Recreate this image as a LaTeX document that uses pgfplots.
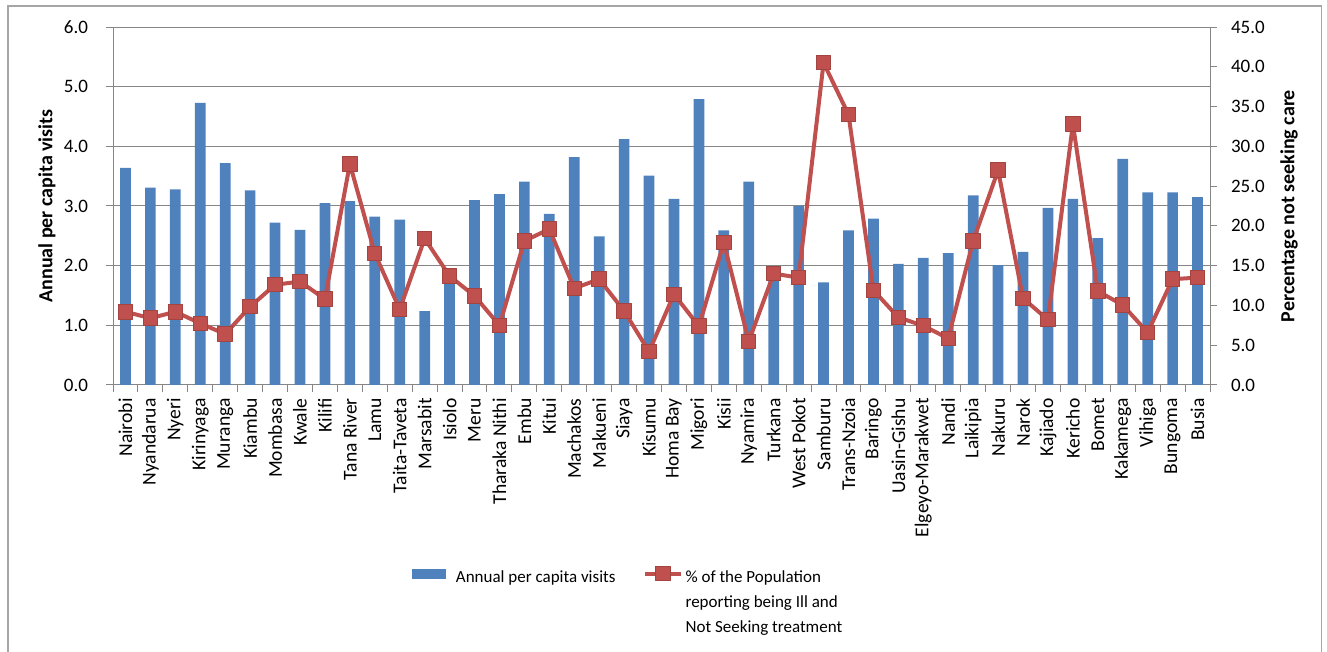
\documentclass[border=0pt]{standalone}
\usepackage{pgfplots}
\pgfplotsset{compat=1.18}
\usepackage{fontspec}
\setmainfont{Carlito}
\definecolor{barblue}{HTML}{4F81BD}
\definecolor{linered}{HTML}{C0504D}
\definecolor{gridgray}{HTML}{868686}
\definecolor{framegray}{HTML}{A6A6A6}
\pgfplotstableread{
x visits pct
0 3.64 9.2
1 3.31 8.4
2 3.28 9.2
3 4.73 7.75
4 3.72 6.4
5 3.26 9.85
6 2.72 12.6
7 2.60 13.0
8 3.05 10.8
9 3.08 27.8
10 2.82 16.55
11 2.77 9.5
12 1.24 18.4
13 1.95 13.7
14 3.10 11.2
15 3.20 7.5
16 3.41 18.1
17 2.87 19.6
18 3.82 12.15
19 2.49 13.3
20 4.12 9.3
21 3.51 4.2
22 3.12 11.4
23 4.79 7.4
24 2.59 17.9
25 3.41 5.5
26 1.90 14.0
27 3.00 13.5
28 1.72 40.5
29 2.59 34.0
30 2.79 11.9
31 2.03 8.5
32 2.13 7.45
33 2.21 5.85
34 3.18 18.1
35 2.01 27.0
36 2.23 10.9
37 2.97 8.2
38 3.12 32.8
39 2.46 11.8
40 3.79 10.05
41 3.23 6.6
42 3.23 13.3
43 3.15 13.5
}\datatable
\begin{document}
\begin{tikzpicture}
\useasboundingbox (0pt,0pt) rectangle (663.5pt,326pt);
\draw[framegray, line width=0.75pt] (4pt,-10pt) -- (4pt,323pt) -- (660.85pt,323pt) -- (660.85pt,-10pt);
\begin{axis}[
  at={(56.5pt,133.5pt)}, anchor=south west,
  scale only axis, width=548.5pt, height=179pt,
  xmin=-0.5, xmax=43.5, ymin=0, ymax=6,
  axis x line*=bottom, axis y line*=left,
  axis line style={gridgray, line width=0.5pt, -},
  ybar, bar width=5.35pt,
  xtick={0,...,43},
  xticklabels={Nairobi,Nyandarua,Nyeri,Kirinyaga,Muranga,Kiambu,Mombasa,Kwale,Kilifi,Tana River,Lamu,Taita-Taveta,Marsabit,Isiolo,Meru,Tharaka Nithi,Embu,Kitui,Machakos,Makueni,Siaya,Kisumu,Homa Bay,Migori,Kisii,Nyamira,Turkana,West Pokot,Samburu,Trans-Nzoia,Baringo,Uasin-Gishu,Elgeyo-Marakwet,Nandi,Laikipia,Nakuru,Narok,Kajiado,Kericho,Bomet,Kakamega,Vihiga,Bungoma,Busia},
  minor xtick={-0.5,0.5,...,43.5},
  ytick={0,1,...,6}, minor ytick={0,1,...,6},
  major tick length=0pt, minor tick length=3.5pt, tick align=outside,
  tick style={gridgray, line width=0.5pt},
  ymajorgrids, grid style={gridgray, line width=0.5pt},
  /pgf/number format/assume math mode=true,
  yticklabel={\pgfmathprintnumber[fixed,fixed zerofill,precision=1]{\tick}},
  yticklabel style={font=\fontsize{9.5}{11}\selectfont, anchor=east, inner sep=0pt, xshift=-12.3pt},
  xticklabel style={font=\fontsize{9.8}{11}\selectfont, rotate=90, anchor=east, inner sep=0pt},
  xticklabel shift=6.5pt,
  every axis y label/.style={at={(axis description cs:-0.0602,0.5)}, rotate=90, anchor=center, font=\fontsize{10}{12}\selectfont\bfseries},
  ylabel={Annual per capita visits},
]
\addplot[fill=barblue, draw=none] table[x=x, y=visits] {\datatable};
\end{axis}
\begin{axis}[
  at={(56.5pt,133.5pt)}, anchor=south west,
  scale only axis, width=548.5pt, height=179pt,
  xmin=-0.5, xmax=43.5, ymin=0, ymax=45,
  axis x line=none, axis y line*=right,
  axis line style={gridgray, line width=0.5pt, -},
  ytick={0,5,...,45}, minor ytick={0,5,...,45},
  major tick length=0pt, minor tick length=3.5pt, tick align=outside,
  tick style={gridgray, line width=0.5pt},
  /pgf/number format/assume math mode=true,
  yticklabel={\pgfmathprintnumber[fixed,fixed zerofill,precision=1]{\tick}},
  yticklabel style={font=\fontsize{9.5}{11}\selectfont, anchor=west, inner sep=0pt, xshift=10.3pt},
  every axis y label/.style={at={(axis description cs:1.072,0.5)}, rotate=90, anchor=center, font=\fontsize{10}{12}\selectfont\bfseries},
  ylabel={Percentage not seeking care},
  legend columns=2,
  legend style={at={(axis description cs:0.2723,-0.507)}, anchor=north west, draw=none, fill=none,
    inner sep=0pt, outer sep=0pt, font=\fontsize{8.5}{12.5}\selectfont,
    nodes={inner sep=0pt}, cells={anchor=base west}, column sep=0pt,
    /tikz/every even column/.append style={column sep=13.5pt}},
]
\addlegendimage{legend image code/.code={\fill[barblue] (0pt,2.2pt) rectangle (16.7pt,6.7pt); \path (21.7pt,0pt);}}
\addlegendentry{Annual per capita visits}
\addplot[linered, line width=2pt, line join=round, mark=square*, mark size=3.6pt,
  mark options={solid, fill=linered, draw=linered!85!black, line width=0.5pt},
  legend image code/.code={\draw[linered, line width=2pt] (0pt,4.5pt) -- (18.3pt,4.5pt); \draw[linered!85!black, fill=linered, line width=0.5pt] plot[mark=square*, mark size=3.6pt, only marks] coordinates {(9.15pt,4.5pt)}; \path (19.5pt,0pt);}]
  table[x=x, y=pct] {\datatable};
\addlegendentry{\parbox[t]{95pt}{\raggedright \% of the Population\\reporting being Ill and\\Not Seeking treatment}}
\end{axis}
\end{tikzpicture}
\end{document}
